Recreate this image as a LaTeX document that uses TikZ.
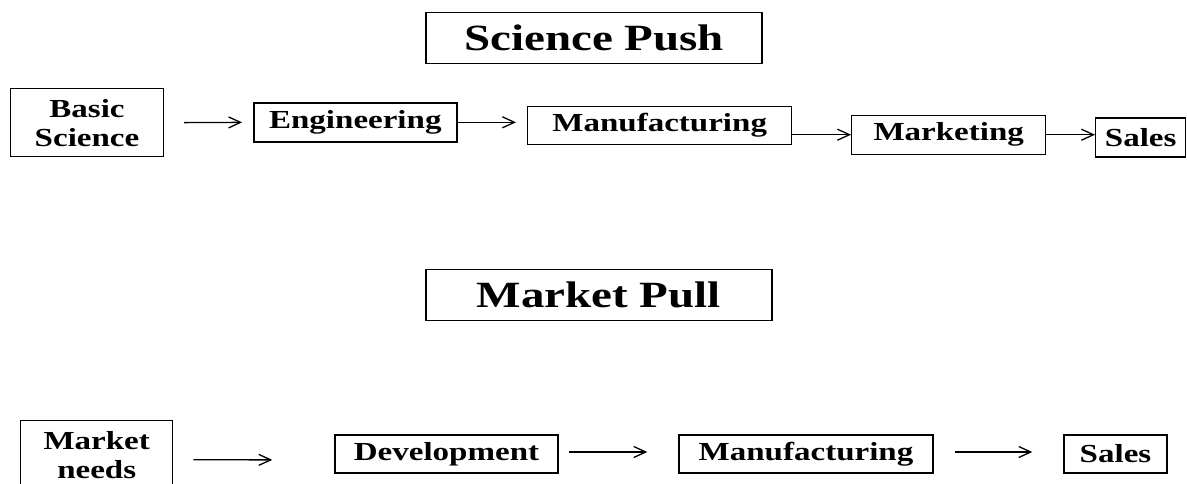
\documentclass[tikz,border=0pt]{standalone}
\usepackage{fontspec}
\setmainfont{Liberation Serif}[FakeStretch=1.27]
\usetikzlibrary{arrows.meta}
\tikzset{
  box/.style={draw, line width=1.4pt, inner sep=0pt, align=center,
    font=\fontsize{26}{29}\selectfont\bfseries},
  titlebox/.style={draw, line width=1.4pt, inner sep=0pt, align=center,
    font=\fontsize{37}{40}\selectfont\bfseries},
  arr/.style={line width=1.3pt, -{Straight Barb[length=12pt,width=11pt,line width=1.3pt]}}
}
\begin{document}
\begin{tikzpicture}[x=1pt,y=-1pt]
\useasboundingbox (0,0) rectangle (1187,483);
\clip (0,0) rectangle (1187,483);
% Science Push
\node[titlebox, minimum width=336pt, minimum height=51pt] (t1) at (594,38) {Science Push};
\node[box, minimum width=153pt, minimum height=68pt] (bs) at (87,122.7) {Basic\\Science};
\node[box, minimum width=203pt, minimum height=39pt] (eng) at (355.3,122.3) {Engineering};
\node[box, minimum width=264pt, minimum height=38pt] (man1) at (659.7,125.2) {Manufacturing};
\node[box, minimum width=194pt, minimum height=39pt] (mkt) at (948.7,134.7) {Marketing};
\node[box, minimum width=90pt, minimum height=39pt] (sal1) at (1140.7,137.3) {Sales};
\draw[arr, shorten <=20pt, shorten >=11pt] (bs.east) -- (eng.west);
\draw[arr, shorten >=11pt] (eng.east) -- (man1.west |- eng.east);
\draw[arr] (man1.east |- mkt.west) -- (mkt.west);
\draw[arr] (mkt.east) -- (sal1.west |- mkt.east);
% Market Pull
\node[titlebox, minimum width=346pt, minimum height=51pt] (t2) at (598.8,294.7) {Market Pull};
\node[box, minimum width=152pt, minimum height=68pt] (mn) at (96.7,454.7) {Market\\needs};
\node[box, minimum width=223pt, minimum height=38pt] (dev) at (446.5,454) {Development};
\node[box, minimum width=254pt, minimum height=38pt] (man2) at (806,454) {Manufacturing};
\node[box, minimum width=103pt, minimum height=38pt] (sal2) at (1115.5,454) {Sales};
\draw[arr, shorten <=20pt, shorten >=62pt] ([yshift=-5pt]mn.east) -- ([yshift=-6pt]dev.west);
\draw[arr, shorten <=10pt, shorten >=31pt] ([yshift=2pt]dev.east) -- ([yshift=2pt]man2.west);
\draw[arr, shorten <=21pt, shorten >=31pt] ([yshift=2pt]man2.east) -- ([yshift=2pt]sal2.west);
\end{tikzpicture}
\end{document}
